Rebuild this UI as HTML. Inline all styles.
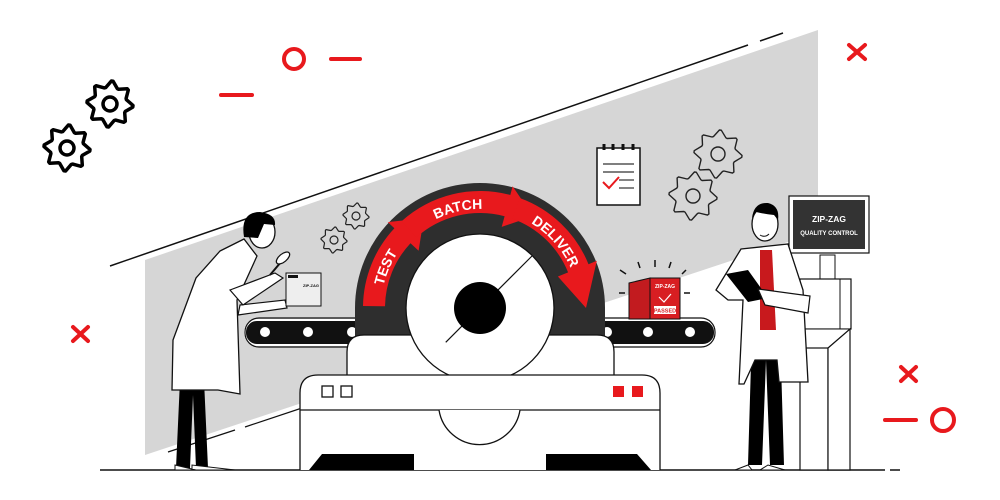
<!DOCTYPE html>
<html><head><meta charset="utf-8"><style>html,body{margin:0;padding:0;background:#fff}svg{display:block}</style></head>
<body>
<svg id="s" width="1000" height="500" viewBox="0 0 1000 500" xmlns="http://www.w3.org/2000/svg" font-family="Liberation Sans, sans-serif">
<defs><path id="tp" d="M381,308 A99,99 0 0 1 579,308" fill="none"/></defs>
<!-- background gray -->
<polygon points="145,260 818,30 818,232 145,455" fill="#d6d6d6"/>
<line x1="110" y1="266" x2="748" y2="45" stroke="#111" stroke-width="1.5"/>
<line x1="760" y1="41" x2="783" y2="33" stroke="#111" stroke-width="1.5"/>
<line x1="168" y1="452" x2="235" y2="430" stroke="#111" stroke-width="1.2"/>
<line x1="245" y1="427" x2="320" y2="402" stroke="#111" stroke-width="1.2"/>
<line x1="100" y1="470" x2="885" y2="470" stroke="#111" stroke-width="1.5"/>
<line x1="890" y1="470" x2="900" y2="470" stroke="#111" stroke-width="1.5"/>

<!-- red decorations -->
<g stroke="#e8191d" stroke-width="4" fill="none" stroke-linecap="round">
<circle cx="294" cy="59" r="10"/>
<line x1="331" y1="59" x2="360" y2="59"/>
<line x1="221" y1="95" x2="252" y2="95"/>
<line x1="849" y1="45" x2="865" y2="59"/><line x1="865" y1="45" x2="849" y2="59"/>
<line x1="73" y1="327" x2="88" y2="341"/><line x1="88" y1="327" x2="73" y2="341"/>
<line x1="901" y1="367" x2="916" y2="381"/><line x1="916" y1="367" x2="901" y2="381"/>
<line x1="885" y1="420" x2="916" y2="420"/>
<circle cx="943" cy="420" r="11"/>
</g>

<g id="gears"></g>

<!-- clipboard -->
<rect x="597" y="148" width="43" height="57" fill="#fff" stroke="#111" stroke-width="1.5"/>
<g stroke="#111" stroke-width="3"><line x1="604" y1="144" x2="604" y2="150"/><line x1="613" y1="144" x2="613" y2="150"/><line x1="623" y1="144" x2="623" y2="150"/><line x1="633" y1="144" x2="633" y2="150"/></g>
<g stroke="#333" stroke-width="1.2"><line x1="603" y1="164" x2="634" y2="164"/><line x1="603" y1="172" x2="634" y2="172"/><line x1="619" y1="180" x2="634" y2="180"/><line x1="619" y1="188" x2="634" y2="188"/></g>
<polyline points="603,182 609,188 619,177" fill="none" stroke="#e8191d" stroke-width="2"/>

<!-- conveyors -->
<rect x="245" y="320" width="130" height="25" rx="12" fill="#111" stroke="#fff" stroke-width="2"/>
<rect x="245" y="318" width="130" height="29" rx="14" fill="none" stroke="#111" stroke-width="1.2"/>
<rect x="585" y="320" width="130" height="25" rx="12" fill="#111" stroke="#fff" stroke-width="2"/>
<rect x="585" y="318" width="130" height="29" rx="14" fill="none" stroke="#111" stroke-width="1.2"/>
<g fill="#fff" stroke="#111" stroke-width="2">
<circle cx="265" cy="332" r="6"/><circle cx="308" cy="332" r="6"/><circle cx="352" cy="332" r="6"/>
<circle cx="607" cy="332" r="6"/><circle cx="648" cy="332" r="6"/><circle cx="690" cy="332" r="6"/>
</g>

<!-- dial -->
<path d="M355,340 L355,308 A125,125 0 0 1 605,308 L605,340 Z" fill="#2e2e2e"/>
<g id="arrows" fill="#e8191d"></g>
<text fill="#fff" font-weight="bold" font-size="14"><textPath href="#tp" startOffset="13%" text-anchor="middle">TEST</textPath></text>
<text fill="#fff" font-weight="bold" font-size="14"><textPath href="#tp" startOffset="43%" text-anchor="middle">BATCH</textPath></text>
<text fill="#fff" font-weight="bold" font-size="14"><textPath href="#tp" startOffset="77%" text-anchor="middle">DELIVER</textPath></text>

<!-- machine -->
<path d="M347,378 V352 Q347,335 364,335 H597 Q614,335 614,352 V378 Z" fill="#fff" stroke="#111" stroke-width="1.3"/>
<circle cx="480" cy="308" r="74" fill="#fff" stroke="#111" stroke-width="1.3"/>
<line x1="532" y1="256" x2="428" y2="360" stroke="#111" stroke-width="1.2" stroke-dasharray="60,4,14,4,40"/>
<circle cx="480" cy="308" r="26" fill="#000"/>
<path d="M300,470 V393 Q300,375 318,375 H642 Q660,375 660,393 V470" fill="#fff" stroke="#111" stroke-width="1.3"/>
<line x1="300" y1="410" x2="660" y2="410" stroke="#111" stroke-width="1.3"/>
<path d="M439,410 A41,41 0 0 0 520,410" fill="#fff" stroke="#111" stroke-width="1.3"/>
<rect x="322" y="386" width="11" height="11" fill="#fff" stroke="#111" stroke-width="1.3"/>
<rect x="341" y="386" width="11" height="11" fill="#fff" stroke="#111" stroke-width="1.3"/>
<rect x="613" y="386" width="11" height="11" fill="#e8191d"/>
<rect x="632" y="386" width="11" height="11" fill="#e8191d"/>
<polygon points="322,454 414,454 414,470 309,470" fill="#000"/>
<polygon points="546,454 637,454 651,470 546,470" fill="#000"/>

<!-- red box -->
<g stroke="#111" stroke-width="1.5"><line x1="620" y1="270" x2="626" y2="274"/><line x1="638" y1="262" x2="640" y2="268"/><line x1="655" y1="260" x2="655" y2="267"/><line x1="671" y1="262" x2="669" y2="268"/><line x1="686" y1="270" x2="682" y2="274"/><line x1="619" y1="293" x2="625" y2="293"/><line x1="684" y1="293" x2="690" y2="293"/></g>
<polygon points="629,283 650,278 650,319 629,319" fill="#c21b1f" stroke="#111"/>
<rect x="650" y="278" width="30" height="41" fill="#d81e22" stroke="#111"/>
<text x="665" y="288" fill="#fff" font-size="5" font-weight="bold" text-anchor="middle">ZIP-ZAG</text>
<polyline points="659,297 664,302 671,294" fill="none" stroke="#fff" stroke-width="1.2"/>
<rect x="654" y="306" width="22" height="8" fill="#fff"/>
<text x="665" y="312.5" fill="#d81e22" font-size="5.5" font-weight="bold" text-anchor="middle">PASSED</text>

<!-- right cabinet & monitor -->
<rect x="820" y="255" width="15" height="28" fill="#fff" stroke="#111"/>
<rect x="800" y="279" width="51" height="50" fill="#fff" stroke="#111" stroke-width="1.2"/>
<line x1="840" y1="279" x2="840" y2="329" stroke="#111"/>
<polygon points="800,329 850,329 828,348 800,348" fill="#fff" stroke="#111"/>
<rect x="800" y="348" width="28" height="122" fill="#fff" stroke="#111" stroke-width="1.2"/>
<polygon points="828,348 850,329 850,470 828,470" fill="#fff" stroke="#111" stroke-width="1.2"/>
<rect x="789" y="196" width="80" height="57" fill="#fff" stroke="#111" stroke-width="1.2"/>
<rect x="793" y="200" width="72" height="49" fill="#333"/>
<text x="829" y="222" fill="#fff" font-size="8.5" font-weight="bold" text-anchor="middle">ZIP-ZAG</text>
<text x="829" y="235" fill="#fff" font-size="6" font-weight="bold" text-anchor="middle">QUALITY CONTROL</text>

<!-- right scientist -->
<polygon points="752,330 780,330 784,465 770,465 766,360 762,465 748,465" fill="#000"/>
<path d="M748,465 L735,470 L752,470 Z M768,465 L760,470 L785,470 Z" fill="#fff" stroke="#111"/>
<path d="M741,249 L788,244 L803,290 L808,382 L779,382 L777,360 L755,360 L744,384 L739,384 L743,300 L728,300 L716,290 Z" fill="#fff" stroke="#111" stroke-width="1.3"/>
<polygon points="760,250 772,250 776,330 760,330" fill="#c8191d"/>
<ellipse cx="765" cy="224" rx="13" ry="17" fill="#fff" stroke="#111" stroke-width="1.3"/>
<path d="M752,218 Q754,202 768,203 Q780,206 778,220 L774,215 Q764,214 756,212 Z" fill="#000"/>
<path d="M760,235 Q765,238 769,234" fill="none" stroke="#111"/>
<polygon points="726,274 748,270 768,298 748,302" fill="#000"/>
<path d="M758,289 L810,296 L808,313 L765,305 Z" fill="#fff" stroke="#111" stroke-width="1.2"/>

<!-- left scientist -->
<polygon points="180,380 204,380 208,468 196,468 193,395 190,468 176,468" fill="#000"/>
<path d="M175,465 L175,470 L196,470 Z M192,465 L192,470 L235,470 Z" fill="#fff" stroke="#111"/>
<path d="M220,251 L244,239 L257,256 L237,300 L240,394 L218,390 L172,390 L173,340 L196,278 Z" fill="#fff" stroke="#111" stroke-width="1.3"/>
<path d="M230,290 L275,273 L283,278 L243,305 Z M240,305 L285,300 L287,308 L238,315 Z" fill="#fff" stroke="#111" stroke-width="1.2"/>
<ellipse cx="262" cy="232" rx="13" ry="16" fill="#fff" stroke="#111" stroke-width="1.3"/>
<path d="M244,237 Q240,212 260,212 Q276,214 275,225 L264,224 L258,238 Z" fill="#000"/>
<line x1="270" y1="275" x2="281" y2="262" stroke="#111" stroke-width="2"/>
<ellipse cx="283" cy="258" rx="8" ry="4" transform="rotate(-40 283 258)" fill="#fff" stroke="#111" stroke-width="1.3"/>
<rect x="286" y="273" width="35" height="33" fill="#eee" stroke="#111"/>
<rect x="288" y="275" width="10" height="3" fill="#111"/>
<text x="311" y="287" font-size="4" text-anchor="middle" fill="#111" font-weight="bold">ZIP-ZAG</text>
</svg>
<script>
function gear(cx,cy,R,r,hole,n,sw,col){var p="",t=n*4;for(var i=0;i<t;i++){var a=(i/t)*Math.PI*2,rr=(i%4<2)?R:r;var a2=a+ (i%4==0||i%4==2?0.06:-0.06);p+=(i?"L":"M")+(cx+rr*Math.cos(a2)).toFixed(1)+","+(cy+rr*Math.sin(a2)).toFixed(1);}p+="Z";
return '<path d="'+p+'" fill="none" stroke="'+col+'" stroke-width="'+sw+'" stroke-linejoin="round"/><circle cx="'+cx+'" cy="'+cy+'" r="'+hole+'" fill="none" stroke="'+col+'" stroke-width="'+sw+'"/>';}
var g="";
g+=gear(110,104,23,17,7,8,3.5,"#000");
g+=gear(67,148,23,17,7,8,3.5,"#000");
g+=gear(718,154,24,18,7,8,1.4,"#222");
g+=gear(693,196,24,18,7,8,1.4,"#222");
g+=gear(356,216,13,10,4,8,1.2,"#222");
g+=gear(334,240,13,10,4,8,1.2,"#222");
document.getElementById("gears").innerHTML=g;
var CX=480,CY=308;
function pt(r,d){var a=d*Math.PI/180;return (CX+r*Math.cos(a)).toFixed(1)+","+(CY-r*Math.sin(a)).toFixed(1);}
function seg(a1,a2,tip){var Ro=117,Ri=95;
return '<path d="M'+pt(Ri,a1)+' L'+pt(Ro,a1)+' A'+Ro+','+Ro+' 0 0 1 '+pt(Ro,a2)+' L'+pt(126,a2)+' L'+pt(106,tip)+' L'+pt(84,a2)+' L'+pt(Ri,a2)+' A'+Ri+','+Ri+' 0 0 0 '+pt(Ri,a1)+' Z"/>';}
document.getElementById("arrows").innerHTML=seg(179,137,122)+seg(132,75,60)+seg(70,22,0);
</script>
</body></html>
